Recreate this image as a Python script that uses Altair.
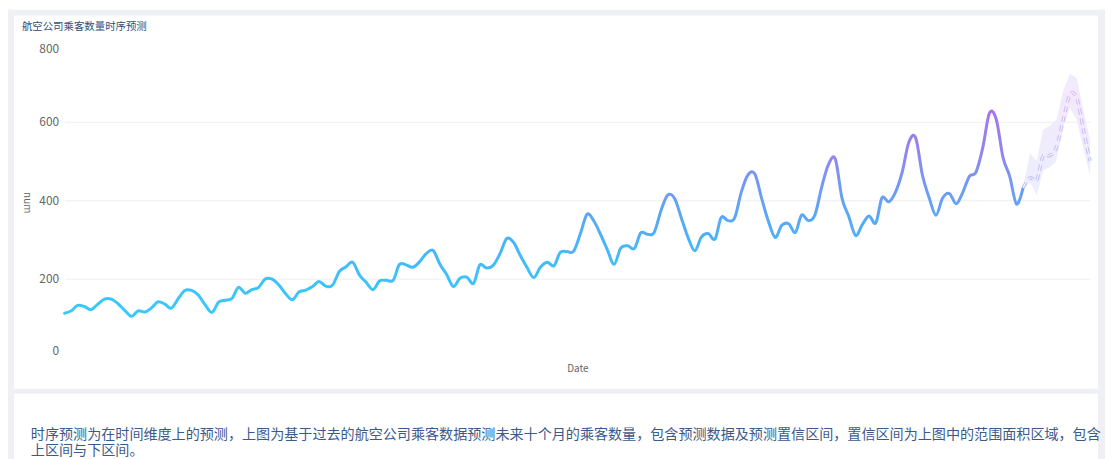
import altair as alt
import pandas as pd

# ---------------- data ----------------
start_month = "1949-01-01"
passengers = [
    112, 118, 132, 129, 121, 135, 148, 148, 136, 119, 104, 118,
    115, 126, 141, 135, 125, 149, 170, 170, 158, 133, 114, 140,
    145, 150, 178, 163, 172, 178, 199, 199, 184, 162, 146, 166,
    171, 180, 193, 181, 183, 218, 230, 242, 209, 191, 172, 194,
    196, 196, 236, 235, 229, 243, 264, 272, 237, 211, 180, 201,
    204, 188, 235, 227, 234, 264, 302, 293, 259, 229, 203, 229,
    242, 233, 267, 269, 270, 315, 364, 347, 312, 274, 237, 278,
    284, 277, 317, 313, 318, 374, 413, 405, 355, 306, 271, 306,
    315, 301, 356, 348, 355, 422, 465, 467, 404, 347, 305, 336,
    340, 318, 362, 348, 363, 435, 491, 505, 404, 359, 310, 337,
    360, 342, 406, 396, 420, 472, 548, 559, 463, 407, 362, 405,
    417, 391, 419, 461, 472, 535, 622, 606, 508, 461, 390, 432,
]
forecast_months = ["1960-12-01", "1961-01-01", "1961-02-01", "1961-03-01",
                   "1961-04-01", "1961-05-01", "1961-06-01", "1961-07-01",
                   "1961-08-01", "1961-09-01", "1961-10-01"]
forecast_pred = [432, 457, 452, 512, 514, 535, 605, 668, 662, 578, 500]
forecast_lower = [430, 445, 413, 476, 484, 500, 585, 635, 605, 530, 463]
forecast_upper = [436, 520, 500, 580, 590, 605, 680, 722, 712, 630, 552]

y_ticks = [0, 200, 400, 600, 800]

title_text = "航空公司乘客数量时序预测"
desc_line1 = "时序预测为在时间维度上的预测，上图为基于过去的航空公司乘客数据预测未来十个月的乘客数量，包含预测数据及预测置信区间，置信区间为上图中的范围面积区域，包含"
desc_line2 = "上区间与下区间。"

months = pd.date_range(start_month, periods=len(passengers), freq="MS").strftime("%Y-%m-%d")
hist = pd.DataFrame({"Date": months, "num": passengers})
fc = pd.DataFrame({"Date": forecast_months, "num": forecast_pred,
                   "lower": forecast_lower, "upper": forecast_upper})
one = pd.DataFrame({"k": [0]})

# ---------------- styles ----------------
W, H = 1033, 316
PAD = {"left": 57, "top": 34, "right": 15, "bottom": 101}
GRAY = "#eef0f5"
FONT = "Noto Sans CJK SC"

x_enc = alt.X("Date:T", scale=alt.Scale(nice=False),
              axis=alt.Axis(title="Date", labels=False, ticks=False, domain=False, grid=False,
                            titleFontSize=10, titleColor="#666666", titleFontWeight="normal",
                            titleY=12, titleBaseline="middle", titleFont=FONT))
y_axis = alt.Axis(values=y_ticks, title="num", domain=False, ticks=False, labelPadding=6,
                  labelFontSize=12, labelColor="#666666", labelFont=FONT, labelFlush=True,
                  gridColor="#efefef", gridWidth=1,
                  gridOpacity={"condition": {"test": "datum.value === 0 || datum.value === 800", "value": 0}, "value": 1},
                  titleAngle=90, titleX=-38, titleY=160, titleAlign="center", titleBaseline="middle",
                  titleFontSize=10, titleColor="#666666", titleFontWeight="normal", titleFont=FONT)
y_scale = alt.Scale(domain=[0, 800], nice=False)

line_grad = alt.Gradient(
    gradient="linear", x1=0, x2=0, y1=1, y2=0,
    stops=[alt.GradientStop(color="#37cbfc", offset=0),
           alt.GradientStop(color="#42bbf9", offset=0.28),
           alt.GradientStop(color="#55aaf6", offset=0.46),
           alt.GradientStop(color="#6e9cf3", offset=0.62),
           alt.GradientStop(color="#8d88f0", offset=0.77),
           alt.GradientStop(color="#a674ee", offset=1)])
band_grad = alt.Gradient(
    gradient="linear", x1=0, x2=0, y1=1, y2=0,
    stops=[alt.GradientStop(color="#ebedfd", offset=0),
           alt.GradientStop(color="#f3e8fc", offset=1)])
dash_grad = alt.Gradient(
    gradient="linear", x1=0, x2=0, y1=1, y2=0,
    stops=[alt.GradientStop(color="#bcc3f6", offset=0),
           alt.GradientStop(color="#d8b6f4", offset=1)])

# ---------------- decorative card gaps ----------------
def strip(x, x2, y, y2):
    return alt.Chart(one).mark_rect(color=GRAY).encode(
        x=alt.value(x), x2=alt.value(x2), y=alt.value(y), y2=alt.value(y2))

deco = [
    strip(-57, 1048, -34, -28),   # top
    strip(-57, -51, -34, 420),    # left
    strip(1041, 1048, -34, 420),  # right
    strip(-57, 1048, 348, 353),   # gap between cards
]

title_mark = alt.Chart(one).mark_text(
    text=title_text, align="left", baseline="middle", fontSize=10.5, color="#2f4f80", font=FONT
).encode(x=alt.value(-43), y=alt.value(-16))

desc1 = alt.Chart(one).mark_text(
    text=desc_line1, align="left", baseline="middle", fontSize=14.2,
    color="#3a5a8c", font=FONT
).encode(x=alt.value(-34), y=alt.value(394))
desc2 = alt.Chart(one).mark_text(
    text=desc_line2, align="left", baseline="middle", fontSize=14.2,
    color="#3a5a8c", font=FONT
).encode(x=alt.value(-34), y=alt.value(411))

# ---------------- data marks ----------------
hist_line = alt.Chart(hist).mark_line(
    interpolate="cardinal", strokeWidth=3, color=line_grad, strokeCap="round"
).encode(x=x_enc, y=alt.Y("num:Q", scale=y_scale, axis=y_axis))

band = alt.Chart(fc).mark_area(interpolate="linear", color=band_grad, opacity=0.95).encode(
    x="Date:T", y=alt.Y("lower:Q"), y2="upper:Q")

dash_outer = alt.Chart(fc).mark_line(
    interpolate="cardinal", strokeWidth=3.4, strokeDash=[6, 4], color=dash_grad
).encode(x="Date:T", y="num:Q")
dash_inner = alt.Chart(fc).mark_line(
    interpolate="cardinal", strokeWidth=1.1, strokeDash=[6, 4], color="#ffffff", opacity=0.9
).encode(x="Date:T", y="num:Q")

chart = alt.layer(
    *deco, hist_line, band, dash_outer, dash_inner, title_mark, desc1, desc2
).properties(
    width=W, height=H, padding=PAD,
    autosize=alt.AutoSizeParams(type="none"),
    background="#ffffff",
).configure_view(stroke=None)

chart.save("out.html", embed_options={"renderer": "svg", "actions": False})
